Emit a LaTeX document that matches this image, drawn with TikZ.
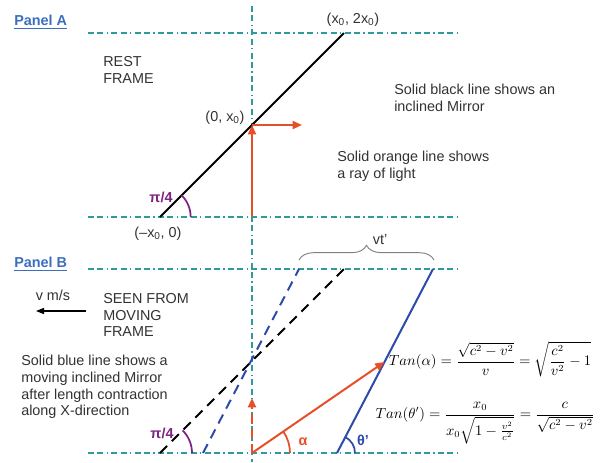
\documentclass[tikz,border=0pt]{standalone}
\usepackage{amsmath}
\usepackage[no-math]{fontspec}
\setmainfont{Liberation Sans}
\usetikzlibrary{positioning,arrows.meta,decorations.pathreplacing,calc}
\definecolor{mrteal}{RGB}{45,155,155}
\definecolor{mrray}{RGB}{230,80,40}
\definecolor{mrblue}{RGB}{45,75,170}
\definecolor{mrpurple}{RGB}{125,35,130}
\definecolor{mrlabel}{RGB}{60,110,190}
\definecolor{mrtext}{RGB}{50,50,50}

\begin{document}
\begin{tikzpicture}[
  x=0.75pt, y=-0.75pt,
  font=\fontsize{10.8}{12.6}\selectfont, text=mrtext,
  guide/.style={draw=mrteal, line width=0.8pt,
    dash pattern=on 4.5pt off 2.5pt on 4.5pt off 2.5pt on 1pt off 2.5pt},
  mirror/.style={line width=1.5pt},
  ghost/.style={line width=1.5pt, dash pattern=on 7.5pt off 5pt},
  ray/.style={draw=mrray, line width=1.5pt, -{Triangle[length=7pt,width=6pt]}},
  ang/.style={line width=1.3pt},
  lbl/.style={inner sep=0pt, align=left},
  greek/.style={inner sep=0pt, font=\fontsize{10.8}{12.6}\selectfont\bfseries},
  panel/.style={inner sep=0pt, anchor=west, text=mrlabel,
    font=\fontsize{10.8}{12.6}\selectfont\bfseries},
  eq/.style={inner sep=0pt, text=black, font=\fontsize{10.5}{12.5}\selectfont}
]
\useasboundingbox (0,0) rectangle (602,462);

% dash-dot guide lines
\coordinate (vtop) at (252,6);
\coordinate (vbot) at (252,462);
\draw[guide] (vtop) -- (vbot);
\foreach \y/\n in {33/at, 217/ab, 269/bt, 453/bb} {
  \coordinate (\n-l) at (88,\y);
  \coordinate (\n-r) at (460,\y);
  \draw[guide] (\n-l) -- (\n-r);
}

% panel A: mirror at rest
\coordinate (m0) at (160,217);
\coordinate (m1) at (252,125);
\coordinate (m2) at (344,33);
\coordinate (o) at (252,217);
\coordinate (h) at (302,125);
\draw[mirror, draw=black] (m0) -- (m2);
\draw[ray] (o) -- (m1);
\draw[ray] (m1) -- (h);
\draw[ang, draw=mrpurple] (m0) ++(23pt,0) arc[start angle=0, end angle=45, radius=23pt];

\node[panel] (pa) at (14,22) {\underline{Panel A}};
\node[lbl, anchor=west] (rest) at (103,70) {REST\\FRAME};
\node[inner sep=0pt] (ltop) at (353,20) {(x\textsubscript{0}, 2x\textsubscript{0})};
\node[inner sep=0pt] (lmid) at (225,118) {(0, x\textsubscript{0})};
\node[inner sep=0pt] (lbot) at (158,234) {(–x\textsubscript{0}, 0)};
\node[greek, text=mrpurple] (pia) at (161,197) {π/4};
\node[lbl, anchor=west] (nblack) at (394,98) {Solid black line shows an\\inclined Mirror};
\node[lbl, anchor=west] (nray) at (337,166) {Solid orange line shows\\a ray of light};

% panel B: seen from the moving frame
\coordinate (d0) at (160,453);
\coordinate (d1) at (344,269);
\coordinate (g0) at (203,453);
\coordinate (g1) at (299,269);
\coordinate (s0) at (337,453);
\coordinate (s1) at (433,269);
\coordinate (p) at (252,453);
\coordinate (q) at (252,398);
\coordinate (hit) at ($(s0)!0.495!(s1)$);
\draw[ghost, draw=black] (d0) -- (d1);
\draw[ghost, draw=mrblue] (g0) -- (g1);
\draw[mirror, draw=mrblue] (s0) -- (s1);
\draw[ray, dash pattern=on 7pt off 4pt] (p) -- (q);
\draw[ray] (p) -- (hit);
\draw[ang, draw=mrpurple] (d0) ++(24pt,0) arc[start angle=0, end angle=45, radius=24pt];
\draw[ang, draw=mrray] (p) ++(28.5pt,0) arc[start angle=0, end angle=34.5, radius=28.5pt];
\draw[ang, draw=mrblue] (s0) ++(13.5pt,0) arc[start angle=0, end angle=62.4, radius=13.5pt];

% shift of the mirror top
\coordinate (b0) at (299,260);
\coordinate (b1) at (434,260);
\draw[draw=gray, line width=0.7pt, decorate, decoration={brace, amplitude=11pt}] (b0) -- (b1);
\node[inner sep=0pt] (vtl) at (380,240) {vt'};

\node[panel] (pb) at (14,264) {\underline{Panel B}};
\node[inner sep=0pt] (vms) at (53,295) {v m/s};
\coordinate (vel0) at (86,311);
\coordinate (vel1) at (36,311);
\draw[line width=0.9pt, -{Triangle[length=6pt,width=4.5pt]}] (vel0) -- (vel1);
\node[lbl, anchor=west] (seen) at (103,315) {SEEN FROM\\MOVING\\FRAME};
\node[lbl, anchor=west] (nblue) at (21,387) {Solid blue line shows a\\moving inclined Mirror\\after length contraction\\along X-direction};
\node[greek, text=mrpurple] (pib) at (162,433) {π/4};
\node[greek, text=mrray] (alp) at (303,442) {α};
\node[greek, text=mrblue] (tht) at (363,440) {θ'};

% formulas
\node[eq] (tana) at (490,359)
  {$\displaystyle Tan(\alpha)=\frac{\sqrt{c^2-v^2}}{v}=\sqrt{\frac{c^2}{v^2}-1}$};
\node[eq] (tant) at (485,423)
  {$\displaystyle Tan(\theta')=\frac{x_0}{x_0\sqrt{1-\frac{v^2}{c^2}}}=\frac{c}{\sqrt{c^2-v^2}}$};
\end{tikzpicture}
\end{document}
